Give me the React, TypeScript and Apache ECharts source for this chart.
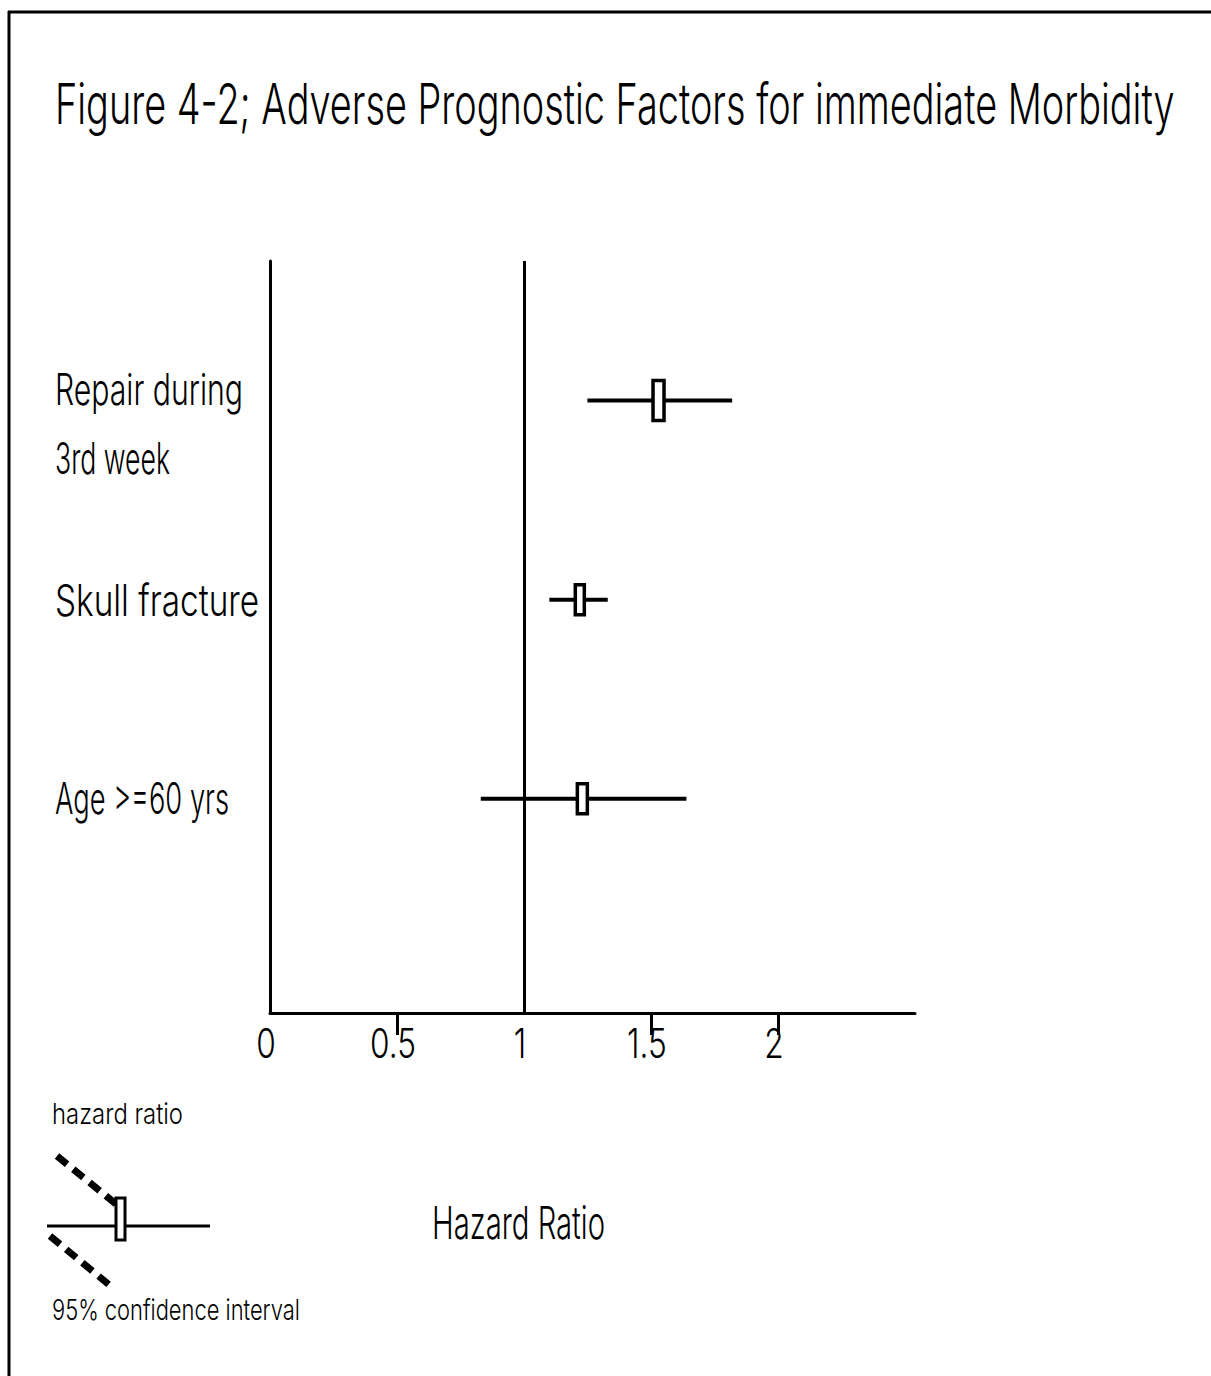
import React, { useEffect, useRef } from "react";
import * as echarts from "echarts";

// ---------------- data ----------------
const factorLines: string[][] = [["Repair during", "3rd week"], ["Skull fracture"], ["Age >=60 yrs"]];
const hazardRatio = [1.53, 1.22, 1.23];
const ciLower = [1.25, 1.1, 0.83];
const ciUpper = [1.82, 1.33, 1.64];
const rowPosition = [3, 2, 1];
const referenceValue = 1;
const xTickValues = [0, 0.5, 1, 1.5, 2];
const xTickLabels = ["0", "0.5", "1", "1.5", "2"];
const xMarkedTicks = [0.5, 1.5, 2];

const titleText = "Figure 4-2; Adverse Prognostic Factors for immediate Morbidity";
const legendTopText = "hazard ratio";
const legendBottomText = "95% confidence interval";
const axisTitleText = "Hazard Ratio";

// ---------------- styles ----------------
const FONT_FAMILY = 'Inter, "DejaVu Sans"';
const FONT_WEIGHT = "300";
const BOX_W = [11, 9, 10];
const BOX_H = [40, 30, 30];

let measureCtx: CanvasRenderingContext2D | null = null;
const measure = (text: string, font: string) => {
  if (!measureCtx) measureCtx = document.createElement("canvas").getContext("2d");
  measureCtx!.font = font;
  return measureCtx!.measureText(text).width;
};

const txt = (
  text: string,
  x: number,
  y: number,
  size: number,
  targetW: number | null,
  align: "left" | "center" = "left",
  fixedScale?: number
) => {
  const font = `${FONT_WEIGHT} ${size}px ${FONT_FAMILY}`;
  const sx = fixedScale ?? (targetW ? targetW / measure(text, font) : 1);
  return {
    type: "text",
    x,
    y,
    scaleX: sx,
    silent: true,
    style: {
      text,
      font,
      fill: "#000",
      textAlign: align,
      textVerticalAlign: "middle",
      align,
      verticalAlign: "middle",
    },
  };
};

export default function App() {
  const ref = useRef<HTMLDivElement>(null);

  useEffect(() => {
    document.body.style.margin = "0";
    document.body.style.overflow = "hidden";
    const chart = echarts.init(ref.current!, null, { renderer: "svg" });

    const data = hazardRatio.map((hr, i) => [hr, ciLower[i], ciUpper[i], rowPosition[i]]);

    const option: any = {
      animation: false,
      backgroundColor: "#fff",
      grid: { left: 270, top: 261, width: 645, height: 752, containLabel: false },
      xAxis: {
        type: "value",
        min: 0,
        max: 2.54,
        interval: 0.5,
        axisLine: { show: true, onZero: false, lineStyle: { color: "#000", width: 3 } },
        axisTick: {
          show: true,
          length: 22,
          customValues: xMarkedTicks,
          lineStyle: { color: "#000", width: 3 },
        },
        axisLabel: { show: false },
        splitLine: { show: false },
      },
      yAxis: {
        type: "value",
        min: -0.075,
        max: 3.7,
        axisLine: { show: true, onZero: false, lineStyle: { color: "#000", width: 3 } },
        axisTick: { show: false },
        axisLabel: { show: false },
        splitLine: { show: false },
      },
      series: [
        {
          type: "custom",
          data,
          dimensions: ["hr", "lo", "hi", "row"],
          encode: { x: [0, 1, 2], y: 3 },
          renderItem: (params: any, api: any) => {
            const hr = api.value(0);
            const lo = api.value(1);
            const hi = api.value(2);
            const row = api.value(3);
            const pLo = api.coord([lo, row]);
            const pHi = api.coord([hi, row]);
            const pHr = api.coord([hr, row]);
            const w = BOX_W[params.dataIndex];
            const h = BOX_H[params.dataIndex];
            return {
              type: "group",
              children: [
                {
                  type: "line",
                  shape: { x1: pLo[0], y1: pLo[1], x2: pHi[0], y2: pHi[1] },
                  style: { stroke: "#000", lineWidth: 4 },
                },
                {
                  type: "rect",
                  shape: { x: pHr[0] - w / 2, y: pHr[1] - h / 2, width: w, height: h },
                  style: { fill: "#fff", stroke: "#000", lineWidth: 3.5 },
                },
              ],
            };
          },
          markLine: {
            silent: true,
            symbol: "none",
            label: { show: false },
            lineStyle: { color: "#000", width: 3, type: "solid" },
            data: [{ xAxis: referenceValue }],
          },
        },
      ],
    };
    chart.setOption(option);

    const px = (x: number, y: number) => chart.convertToPixel({ gridIndex: 0 }, [x, y]) as number[];

    const graphics: any[] = [];
    // frame
    graphics.push({ type: "line", silent: true, shape: { x1: 8, y1: 12, x2: 1211, y2: 12 }, style: { stroke: "#000", lineWidth: 3 } });
    graphics.push({ type: "line", silent: true, shape: { x1: 9, y1: 11, x2: 9, y2: 1376 }, style: { stroke: "#000", lineWidth: 3 } });

    // title
    graphics.push(txt(titleText, 55, 104, 56, 1120));

    // row labels
    const rowTargetW: Record<string, number> = {
      "Repair during": 188,
      "3rd week": 115,
      "Skull fracture": 204,
      "Age >=60 yrs": 174,
    };
    factorLines.forEach((lines, i) => {
      const y = px(0, rowPosition[i])[1];
      const y0 = lines.length > 1 ? y - 12 : y;
      lines.forEach((ln, j) => {
        graphics.push(txt(ln, 55, y0 + j * 70, 44, rowTargetW[ln] ?? null));
      });
    });

    // tick labels
    const tickFont = `${FONT_WEIGHT} 41px ${FONT_FAMILY}`;
    const tickScale = 46 / measure("0.5", tickFont);
    xTickValues.forEach((v, i) => {
      const p = px(v, 0);
      graphics.push(txt(xTickLabels[i], p[0] - 4, 1043, 41, null, "center", tickScale));
    });

    // legend key
    graphics.push(txt(legendTopText, 52, 1113, 29, 131));
    graphics.push(txt(legendBottomText, 52, 1309, 29, 248));
    graphics.push(txt(axisTitleText, 432, 1222, 45, 173));
    graphics.push({ type: "line", silent: true, shape: { x1: 57, y1: 1156, x2: 116, y2: 1204 }, style: { stroke: "#000", lineWidth: 7, lineDash: [13, 8] } });
    graphics.push({ type: "line", silent: true, shape: { x1: 50, y1: 1236, x2: 113, y2: 1288 }, style: { stroke: "#000", lineWidth: 7, lineDash: [13, 8] } });
    graphics.push({ type: "line", silent: true, shape: { x1: 47, y1: 1226, x2: 210, y2: 1226 }, style: { stroke: "#000", lineWidth: 3 } });
    graphics.push({ type: "rect", silent: true, shape: { x: 116, y: 1198, width: 9, height: 42 }, style: { fill: "#fff", stroke: "#000", lineWidth: 3 } });

    chart.setOption({ graphic: { elements: graphics } });

    return () => chart.dispose();
  }, []);

  return <div ref={ref} style={{ position: "absolute", left: 0, top: 0, width: 1211, height: 1376 }} />;
}
